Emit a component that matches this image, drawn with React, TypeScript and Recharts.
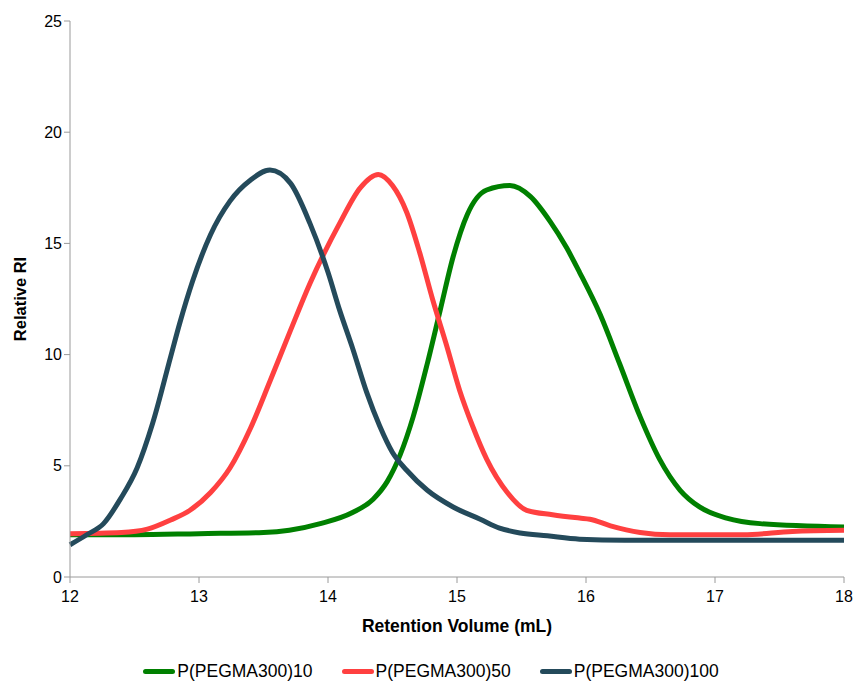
import React from "react";
import { LineChart, Line, XAxis, YAxis, Legend } from "recharts";

// P(PEGMA300)10 — green
const p10X = [
  12.0, 12.5, 13.0, 13.5, 13.7, 13.94, 14.19, 14.35, 14.46, 14.56, 14.66, 14.77,
  14.87, 14.97, 15.08, 15.23, 15.41, 15.57, 15.72, 15.85, 15.95, 16.11, 16.26,
  16.42, 16.57, 16.73, 16.88, 17.09, 17.35, 18.0,
];
const p10Y = [
  1.9, 1.9, 1.95, 2.0, 2.1, 2.4, 2.9, 3.5, 4.3, 5.5, 7.2, 9.6, 12.0, 14.4, 16.3,
  17.4, 17.6, 17.1, 16.0, 14.8, 13.7, 11.8, 9.6, 7.2, 5.3, 3.9, 3.15, 2.65, 2.4,
  2.25,
];

// P(PEGMA300)50 — red
const p50X = [
  12.0, 12.4, 12.6, 12.78, 12.93, 13.09, 13.24, 13.4, 13.55, 13.71, 13.86, 14.09,
  14.25, 14.39, 14.5, 14.61, 14.71, 14.81, 14.92, 15.02, 15.12, 15.23, 15.39,
  15.54, 15.74, 15.95, 16.03, 16.19, 16.42, 16.65, 17.22, 17.6, 18.0,
];
const p50Y = [
  1.95, 2.0, 2.15, 2.56, 3.0, 3.8, 4.9, 6.7, 8.8, 11.1, 13.2, 15.9, 17.5, 18.1,
  17.6, 16.4, 14.6, 12.5, 10.4, 8.4, 6.8, 5.3, 3.8, 3.0, 2.8, 2.65, 2.6, 2.3,
  2.0, 1.9, 1.9, 2.05, 2.1,
];

// P(PEGMA300)100 — dark slate
const p100X = [
  12.0, 12.13, 12.26, 12.39, 12.52, 12.64, 12.78, 12.85, 12.95, 13.09, 13.24,
  13.4, 13.55, 13.71, 13.86, 14.0, 14.09, 14.19, 14.3, 14.4, 14.5, 14.61, 14.77,
  14.97, 15.18, 15.33, 15.49, 15.7, 15.95, 16.3, 17.0, 18.0,
];
const p100Y = [
  1.45, 1.9, 2.4, 3.5, 4.9, 6.9, 9.9, 11.4, 13.3, 15.4, 16.9, 17.85, 18.3, 17.7,
  15.9, 13.7, 12.0, 10.3, 8.3, 6.8, 5.6, 4.8, 3.9, 3.15, 2.6, 2.2, 1.98, 1.85,
  1.7, 1.65, 1.65, 1.65,
];

const xTicks = [12, 13, 14, 15, 16, 17, 18];
const yTicks = [0, 5, 10, 15, 20, 25];

const toPoints = (xs: number[], ys: number[]) =>
  xs.map((x, i) => ({ x, y: ys[i] }));

const series = [
  { key: "p10", name: "P(PEGMA300)10", color: "#008000", data: toPoints(p10X, p10Y) },
  { key: "p50", name: "P(PEGMA300)50", color: "#ff4040", data: toPoints(p50X, p50Y) },
  { key: "p100", name: "P(PEGMA300)100", color: "#244a5b", data: toPoints(p100X, p100Y) },
];

const font = "'Liberation Sans', Arial, sans-serif";

const LegendContent = () => (
  <div
    style={{
      display: "flex",
      justifyContent: "center",
      gap: 29,
      fontFamily: font,
      fontSize: 17.5,
      color: "#000",
      paddingTop: 24,
      paddingLeft: 18,
    }}
  >
    {series.map((s) => (
      <div key={s.key} style={{ display: "flex", alignItems: "center" }}>
        <span
          style={{
            display: "inline-block",
            width: 32,
            height: 5,
            borderRadius: 3,
            background: s.color,
            marginRight: 2,
          }}
        />
        {s.name}
      </div>
    ))}
  </div>
);

export default function App() {
  return (
    <div style={{ position: "absolute", left: 0, top: 0, background: "#fff" }}>
      <LineChart
        width={855}
        height={684}
        margin={{ top: 21, right: 11, left: 0, bottom: 0 }}
      >
        <XAxis
          dataKey="x"
          type="number"
          domain={[12, 18]}
          ticks={xTicks}
          allowDuplicatedCategory={false}
          stroke="#9a9a9a"
          tickSize={6}
          tickMargin={8}
          height={60}
          tick={{ fill: "#000", fontSize: 16, fontFamily: font }}
          label={{
            value: "Retention Volume (mL)",
            position: "insideBottom",
            offset: 5,
            fill: "#000",
            fontSize: 17.5,
            fontWeight: "bold",
            fontFamily: font,
          }}
        />
        <YAxis
          type="number"
          domain={[0, 25]}
          ticks={yTicks}
          stroke="#9a9a9a"
          tickSize={6}
          width={70}
          tick={{ fill: "#000", fontSize: 16, fontFamily: font }}
          label={{
            value: "Relative RI",
            angle: -90,
            position: "insideLeft",
            offset: 20,
            style: { textAnchor: "middle" },
            fill: "#000",
            fontSize: 16.5,
            fontWeight: "bold",
            fontFamily: font,
          }}
        />
        <Legend verticalAlign="bottom" height={47} content={<LegendContent />} />
        {series.map((s) => (
          <Line
            key={s.key}
            data={s.data}
            type="monotone"
            dataKey="y"
            name={s.name}
            stroke={s.color}
            strokeWidth={5}
            dot={false}
            isAnimationActive={false}
          />
        ))}
      </LineChart>
    </div>
  );
}
